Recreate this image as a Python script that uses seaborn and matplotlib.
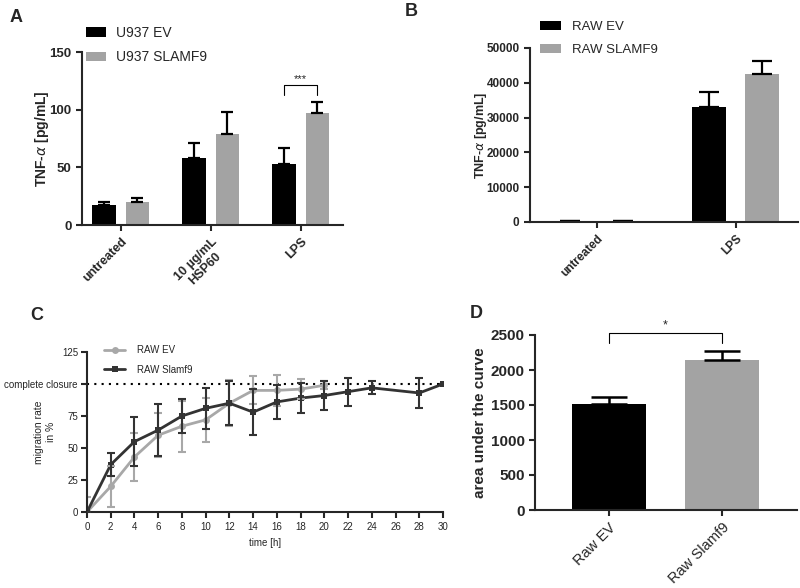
import pandas as pd
import seaborn as sns
import matplotlib.pyplot as plt

# panel A - TNF-alpha in U937 cells
a_treat = ['untreated', '10 µg/mL\nHSP60', 'LPS']
a_ev = [17, 58, 53]
a_ev_err = [3, 13, 14]
a_sl = [20, 79, 97]
a_sl_err = [3, 19, 10]

# panel B - TNF-alpha in RAW cells
b_treat = ['untreated', 'LPS']
b_ev = [150, 33000]
b_ev_err = [40, 4300]
b_sl = [250, 42500]
b_sl_err = [60, 3800]

# panel C - migration over time
c_time_ev = [0, 2, 4, 6, 8, 10, 12, 14, 16, 18, 20]
c_ev = [0, 20, 43, 60, 67, 72, 85, 95, 95, 96, 99]
c_ev_err = [12, 16, 19, 17, 20, 17, 18, 11, 12, 8, 3]
c_time_sl = [0, 2, 4, 6, 8, 10, 12, 14, 16, 18, 20, 22, 24, 28, 30]
c_sl = [0, 37, 55, 64, 75, 81, 85, 78, 86, 89, 91, 94, 97, 93, 100]
c_sl_err = [0, 9, 19, 20, 13, 16, 17, 18, 13, 12, 11, 11, 5, 12, 0]

# panel D - area under the curve
d_groups = ['Raw EV', 'Raw Slamf9']
d_auc = [1510, 2140]
d_auc_err = [100, 125]

BLACK = '#000000'
GREY = '#a3a3a3'

sns.set_style('ticks')
plt.rcParams['font.family'] = ['Liberation Sans', 'DejaVu Sans']
plt.rcParams['axes.linewidth'] = 1.5
plt.rcParams['xtick.major.width'] = 1.5
plt.rcParams['ytick.major.width'] = 1.5
plt.rcParams['xtick.major.size'] = 4
plt.rcParams['ytick.major.size'] = 4

fig = plt.figure(figsize=(8, 5.88), dpi=100)
W, H = 800, 588


def add_axes(left, top, right, bottom):
    return fig.add_axes([left / W, 1 - bottom / H, (right - left) / W, (bottom - top) / H])


def grouped_bars(ax, treat, ev, sl, errs, labels, width, gap, capsize):
    df = pd.DataFrame({
        'treatment': treat * 2,
        'value': ev + sl,
        'group': [labels[0]] * len(treat) + [labels[1]] * len(treat),
    })
    sns.barplot(data=df, x='treatment', y='value', hue='group', ax=ax,
                palette=[BLACK, GREY], width=width, gap=gap, errorbar=None,
                saturation=1, linewidth=0)
    for cont, err in zip(ax.containers, errs):
        xs = [p.get_x() + p.get_width() / 2 for p in cont]
        hs = [p.get_height() for p in cont]
        ax.errorbar(xs, hs, yerr=[[0] * len(err), err], fmt='none', ecolor='black',
                    elinewidth=1.6, capsize=capsize, capthick=1.6, zorder=1)
    return df


def style_bar_axes(ax, fs_y, fs_x):
    sns.despine(ax=ax)
    ax.set_xlabel('')
    for lab in ax.get_xticklabels():
        lab.set_rotation(45)
        lab.set_ha('right')
        lab.set_rotation_mode('anchor')
        lab.set_fontweight('bold')
        lab.set_fontsize(fs_x)
        lab.set_multialignment('center')
    for lab in ax.get_yticklabels():
        lab.set_fontweight('bold')
        lab.set_fontsize(fs_y)


# ---------- panel A ----------
axA = add_axes(82, 52, 343, 225)
grouped_bars(axA, a_treat, a_ev, a_sl, [a_ev_err, a_sl_err], ['U937 EV', 'U937 SLAMF9'],
             width=0.74, gap=0.3, capsize=4)
axA.set_xlim(-0.43, 2.47)
axA.set_ylim(0, 150)
axA.set_yticks([0, 50, 100, 150])
axA.set_ylabel(r'TNF-$\alpha$ [pg/mL]', fontsize=10, fontweight='bold')
axA.yaxis.set_label_coords(-0.12, 0.5)
style_bar_axes(axA, 9.5, 9)
axA.legend(loc='upper left', bbox_to_anchor=(86 / W, 1 - 26 / H), bbox_transform=fig.transFigure,
           frameon=False, fontsize=10, handlelength=1.45, handleheight=0.65,
           handletextpad=0.7, labelspacing=0.75, borderpad=0, borderaxespad=0)
# significance bracket for LPS
xs_lps = [axA.containers[0][2].get_x() + axA.containers[0][2].get_width() / 2,
          axA.containers[1][2].get_x() + axA.containers[1][2].get_width() / 2]
axA.plot([xs_lps[0], xs_lps[0], xs_lps[1], xs_lps[1]], [113, 121, 121, 113],
         color='black', lw=0.8, clip_on=False)
axA.text(sum(xs_lps) / 2, 122, '***', ha='center', va='bottom', fontsize=8)

# ---------- panel B ----------
axB = add_axes(530, 48, 798, 222)
grouped_bars(axB, b_treat, b_ev, b_sl, [b_ev_err, b_sl_err], ['RAW EV', 'RAW SLAMF9'],
             width=0.76, gap=0.35, capsize=7)
axB.set_xlim(-0.48, 1.45)
axB.set_ylim(0, 50000)
axB.set_yticks(range(0, 50001, 10000))
axB.set_ylabel(r'TNF-$\alpha$ [pg/mL]', fontsize=9, fontweight='bold')
axB.yaxis.set_label_coords(-0.153, 0.5)
style_bar_axes(axB, 8.5, 8.5)
axB.legend(loc='upper left', bbox_to_anchor=(540 / W, 1 - 21 / H), bbox_transform=fig.transFigure,
           frameon=False, fontsize=9.5, handlelength=1.6, handleheight=0.7,
           handletextpad=0.8, labelspacing=0.8, borderpad=0, borderaxespad=0)

# ---------- panel C ----------
axC = add_axes(87, 352, 443, 512)
df_c = pd.DataFrame({
    'time': c_time_ev + c_time_sl,
    'rate': c_ev + c_sl,
    'line': ['RAW EV'] * len(c_time_ev) + ['RAW Slamf9'] * len(c_time_sl),
})
c_colors = {'RAW EV': '#a8a8a8', 'RAW Slamf9': '#333333'}
axC.axhline(100, color='black', ls=(0, (1, 2.5)), lw=1.5, zorder=0)
sns.lineplot(data=df_c, x='time', y='rate', hue='line', style='line',
             markers={'RAW EV': 'o', 'RAW Slamf9': 's'}, dashes=False,
             palette=c_colors, lw=2, markersize=5, markeredgewidth=0, ax=axC)
axC.errorbar(c_time_ev, c_ev, yerr=c_ev_err, fmt='none', ecolor=c_colors['RAW EV'],
             elinewidth=1.5, capsize=3, capthick=1.5, zorder=2)
axC.errorbar(c_time_sl, c_sl, yerr=c_sl_err, fmt='none', ecolor=c_colors['RAW Slamf9'],
             elinewidth=1.5, capsize=3, capthick=1.5, zorder=3)
sns.despine(ax=axC)
axC.set_xlim(0, 30)
axC.set_ylim(0, 125)
axC.set_xticks(range(0, 31, 2))
axC.set_yticks([0, 25, 50, 75, 100, 125])
axC.set_yticklabels(['0', '25', '50', '75', 'complete closure', '125'])
axC.tick_params(labelsize=7)
axC.tick_params(axis='y', pad=2.5)
axC.set_xlabel('time [h]', fontsize=7)
axC.set_ylabel('migration rate\nin %', fontsize=7.5)
axC.yaxis.set_label_coords(-0.087, 0.5)
axC.legend(loc='upper left', bbox_to_anchor=(104 / W, 1 - 345 / H), bbox_transform=fig.transFigure,
           frameon=False, fontsize=7, handlelength=2.2, handletextpad=1.2,
           labelspacing=1.0, borderpad=0, borderaxespad=0)

# ---------- panel D ----------
axD = add_axes(535, 335, 797, 510)
df_d = pd.DataFrame({'group': d_groups, 'auc': d_auc})
sns.barplot(data=df_d, x='group', y='auc', hue='group', palette=[BLACK, GREY],
            width=0.65, errorbar=None, saturation=1, linewidth=0, legend=False, ax=axD)
d_x = [c[0].get_x() + c[0].get_width() / 2 for c in axD.containers]
axD.errorbar(d_x, d_auc, yerr=[[0, 0], d_auc_err], fmt='none', ecolor='black',
             elinewidth=1.8, capsize=13, capthick=1.8, zorder=1)
axD.set_xlim(-0.65, 1.66)
axD.set_ylim(0, 2500)
axD.set_yticks(range(0, 2501, 500))
axD.set_ylabel('area under the curve', fontsize=11, fontweight='bold')
axD.yaxis.set_label_coords(-0.183, 0.5)
style_bar_axes(axD, 11, 10.5)
for lab in axD.get_xticklabels():
    lab.set_fontweight('normal')
axD.plot([d_x[0], d_x[0], d_x[1], d_x[1]], [2390, 2530, 2530, 2390],
         color='black', lw=0.8, clip_on=False)
axD.text(sum(d_x) / 2, 2545, '*', ha='center', va='bottom', fontsize=9)

# panel letters
for letter, (px, py) in {'A': (10, 17), 'B': (405, 12), 'C': (30, 316), 'D': (470, 313)}.items():
    fig.text(px / W, 1 - py / H, letter, fontsize=13, fontweight='bold', va='center', ha='left')

fig.savefig('out.png', dpi=100)
